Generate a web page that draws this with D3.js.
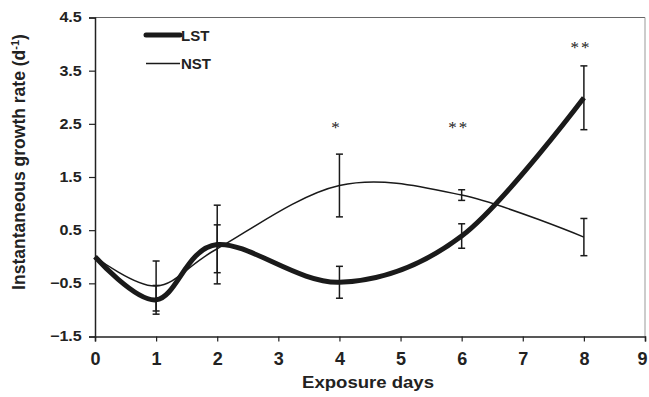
<!DOCTYPE html>
<html>
<head>
<meta charset="utf-8">
<script src="https://cdn.jsdelivr.net/npm/d3@7"></script>
<style>
  html, body { margin: 0; padding: 0; background: #fff; }
  svg { display: block; }
</style>
</head>
<body>
<svg id="chart" width="649" height="397"></svg>
<script>
// Exposure days sampled
const days = [0, 1, 2, 4, 6, 8];
// Instantaneous growth rate, LST treatment (mean and error)
const lstValues = [0, -0.81, 0.23, -0.48, 0.39, 2.99];
const lstErrors = [0, 0.27, 0.74, 0.30, 0.23, 0.60];
// Instantaneous growth rate, NST treatment (mean and error)
const nstValues = [0, -0.55, 0.15, 1.34, 1.16, 0.37];
const nstErrors = [0, 0.47, 0.45, 0.59, 0.10, 0.35];
// Significance marks above selected days
const sigDays = [4, 6, 8];
const sigLabels = ["*", "**", "**"];
const sigLevels = [2.5, 2.5, 4.0];
// Axis ticks
const xTicks = [0, 1, 2, 3, 4, 5, 6, 7, 8, 9];
const yTicks = [-1.5, -0.5, 0.5, 1.5, 2.5, 3.5, 4.5];

const svg = d3.select("#chart");
const margin = { left: 95, right: 4, top: 17.5, bottom: 60.5 };
const W = 649, H = 397;

const x = d3.scaleLinear().domain([0, 9]).range([margin.left, W - margin.right]);
const y = d3.scaleLinear().domain([-1.5, 4.5]).range([H - margin.bottom, margin.top]);

const font = "'Liberation Sans', Arial, sans-serif";
const ink = "#222";

// frame: top and right edges
svg.append("line")
  .attr("x1", x(0)).attr("x2", x(9)).attr("y1", y(4.5)).attr("y2", y(4.5))
  .attr("stroke", "#666").attr("stroke-width", 1);
svg.append("line")
  .attr("x1", x(9)).attr("x2", x(9)).attr("y1", y(4.5)).attr("y2", y(-1.5))
  .attr("stroke", "#999").attr("stroke-width", 1);

// axes
const xAxis = d3.axisBottom(x).tickValues(xTicks).tickFormat(d3.format("d")).tickSize(5).tickPadding(11);
const yAxis = d3.axisLeft(y).tickValues(yTicks).tickFormat(d3.format(".1f")).tickSize(6).tickPadding(5.5);

const gx = svg.append("g").attr("transform", `translate(0,${y(-1.5)})`).call(xAxis);
const gy = svg.append("g").attr("transform", `translate(${x(0)},0)`).call(yAxis);

[gx, gy].forEach(g => {
  g.select(".domain").attr("stroke", ink).attr("stroke-width", 1.5);
  g.selectAll(".tick line").attr("stroke", ink).attr("stroke-width", 1.2);
  g.selectAll(".tick text")
    .attr("fill", ink)
    .style("font-family", font)
    .style("font-weight", "bold");
});
gx.selectAll(".tick text").style("font-size", "18px");
// keep the last label inside the canvas edge
gx.selectAll(".tick text").filter(d => d === 9).attr("dx", -3);
gy.selectAll(".tick text").style("font-size", "14px").attr("transform", "scale(1.15,1)");

// axis titles
svg.append("g")
  .attr("transform", `translate(368,388) scale(1.16,1)`)
  .append("text")
  .attr("text-anchor", "middle")
  .style("font-family", font).style("font-weight", "bold").style("font-size", "16px")
  .attr("fill", ink)
  .text("Exposure days");

const yTitle = svg.append("text")
  .attr("transform", `translate(25,162) rotate(-90)`)
  .attr("text-anchor", "middle")
  .style("font-family", font).style("font-weight", "bold").style("font-size", "17.5px")
  .attr("fill", ink);
yTitle.append("tspan").text("Instantaneous growth rate (d");
yTitle.append("tspan").attr("baseline-shift", "super").style("font-size", "11px").text("-1");
yTitle.append("tspan").text(")");

// smoothed series lines
const line = d3.line()
  .x(d => x(d[0]))
  .y(d => y(d[1]))
  .curve(d3.curveCardinal.tension(0));

const lstPts = days.map((d, i) => [d, lstValues[i]]);
const nstPts = days.map((d, i) => [d, nstValues[i]]);

svg.append("path").datum(nstPts).attr("d", line)
  .attr("fill", "none").attr("stroke", "#1a1a1a").attr("stroke-width", 1.5);
svg.append("path").datum(lstPts).attr("d", line)
  .attr("fill", "none").attr("stroke", "#1a1a1a").attr("stroke-width", 5);

// error bars
function errorBars(values, errors) {
  const g = svg.append("g").attr("stroke", "#1a1a1a").attr("stroke-width", 1.5);
  days.forEach((d, i) => {
    if (errors[i] <= 0) return;
    const cx = x(d), top = y(values[i] + errors[i]), bot = y(values[i] - errors[i]);
    g.append("line").attr("x1", cx).attr("x2", cx).attr("y1", top).attr("y2", bot);
    g.append("line").attr("x1", cx - 3.5).attr("x2", cx + 3.5).attr("y1", top).attr("y2", top);
    g.append("line").attr("x1", cx - 3.5).attr("x2", cx + 3.5).attr("y1", bot).attr("y2", bot);
  });
}
errorBars(nstValues, nstErrors);
errorBars(lstValues, lstErrors);

// significance marks
svg.selectAll("text.sig").data(sigDays).enter().append("text")
  .attr("class", "sig")
  .attr("x", (d, i) => x(d) - 3)
  .attr("y", (d, i) => y(sigLevels[i]) + 9)
  .attr("text-anchor", "middle")
  .style("font-family", "'Liberation Serif', 'Times New Roman', serif")
  .style("font-size", "17px")
  .style("letter-spacing", "2px")
  .attr("fill", "#222")
  .text((d, i) => sigLabels[i]);

// legend
const legend = svg.append("g");
const legendItems = [
  { label: "LST", width: 5, ly: 35, x1: 146 },
  { label: "NST", width: 1.5, ly: 63.5, x1: 146 }
];
legendItems.forEach(it => {
  legend.append("line")
    .attr("x1", it.x1).attr("x2", 180).attr("y1", it.ly).attr("y2", it.ly)
    .attr("stroke", "#1a1a1a").attr("stroke-width", it.width)
    .attr("stroke-linecap", it.width > 2 ? "round" : "butt");
  legend.append("text")
    .attr("x", 181).attr("y", it.ly + 5.7)
    .style("font-family", font).style("font-weight", "bold").style("font-size", "15px")
    .attr("fill", ink)
    .text(it.label);
});
</script>
</body>
</html>
